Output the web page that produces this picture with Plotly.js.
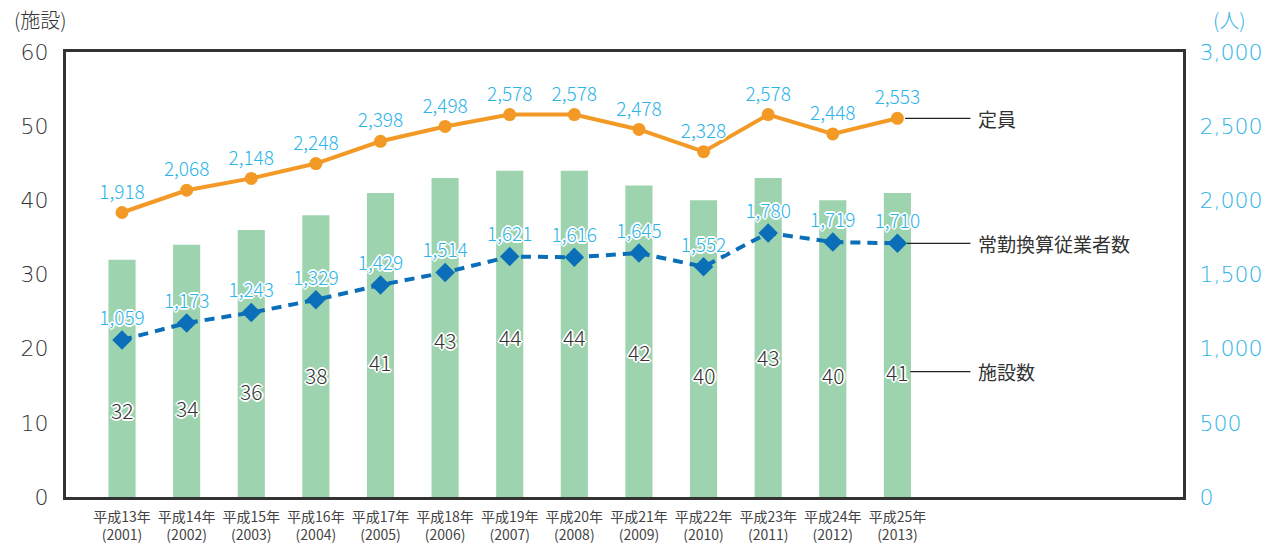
<!DOCTYPE html>
<html>
<head>
<meta charset="utf-8">
<script src="https://cdn.plot.ly/plotly-3.0.1.min.js"></script>
<style>
html,body{margin:0;padding:0;background:#fff;}
#chart{width:1278px;height:554px;}
</style>
</head>
<body>
<div id="chart"></div>
<script>
// ---- data ----
const categories = ["平成13年<br>(2001)","平成14年<br>(2002)","平成15年<br>(2003)","平成16年<br>(2004)","平成17年<br>(2005)","平成18年<br>(2006)","平成19年<br>(2007)","平成20年<br>(2008)","平成21年<br>(2009)","平成22年<br>(2010)","平成23年<br>(2011)","平成24年<br>(2012)","平成25年<br>(2013)"];
const facilities = [32, 34, 36, 38, 41, 43, 44, 44, 42, 40, 43, 40, 41];
const capacity = [1918, 2068, 2148, 2248, 2398, 2498, 2578, 2578, 2478, 2328, 2578, 2448, 2553];
const staff = [1059, 1173, 1243, 1329, 1429, 1514, 1621, 1616, 1645, 1552, 1780, 1719, 1710];
const seriesNames = ["施設数", "定員", "常勤換算従業者数"];
const leftUnit = "(施設)";
const rightUnit = "(人)";
// label placement for bar values (left-axis units), as in the original
const barLabelY = [11.7, 12.0, 14.3, 16.5, 18.2, 21.2, 21.6, 21.6, 19.5, 16.5, 18.9, 16.5, 16.9];

// ---- style ----
const GREEN = "#9dd3ae", ORANGE = "#f39a26", BLUE = "#0a6fb8", LBLUE = "#2db4ea", DARK = "#333333";
const NUMFONT = "Noto Sans CJK JP, Noto Sans, sans-serif";
const TICKFONT = "DejaVu Sans, sans-serif";
const outline = "-1px -1px 0 #fff, 1px -1px 0 #fff, -1px 1px 0 #fff, 1px 1px 0 #fff, 0 2px 0 #fff, 0 -2px 0 #fff, 2px 0 0 #fff, -2px 0 0 #fff";
const fmt = v => v.toLocaleString("en-US");

const traces = [
  {type: "bar", x: categories, y: facilities, name: seriesNames[0], marker: {color: GREEN}, width: 0.42, yaxis: "y", hoverinfo: "y"},
  {type: "scatter", mode: "lines+markers+text", x: categories, y: capacity, name: seriesNames[1], yaxis: "y2",
   line: {color: ORANGE, width: 4}, marker: {color: ORANGE, size: 13, symbol: "circle"},
   text: capacity.map(fmt), textposition: "top center",
   textfont: {family: NUMFONT, size: 19, weight: 300, color: LBLUE, shadow: outline}, cliponaxis: false},
  {type: "scatter", mode: "lines+markers+text", x: categories, y: staff, name: seriesNames[2], yaxis: "y2",
   line: {color: BLUE, width: 4, dash: "10px,7px"}, marker: {color: BLUE, size: 15, symbol: "diamond"},
   text: staff.map(fmt), textposition: "top center",
   textfont: {family: NUMFONT, size: 19, weight: 300, color: LBLUE, shadow: outline}, cliponaxis: false}
];

const annotations = [];
facilities.forEach((v, i) => {
  annotations.push({x: categories[i], y: barLabelY[i], xref: "x", yref: "y", text: String(v), showarrow: false,
    font: {family: NUMFONT, size: 21, weight: 300, color: DARK, shadow: outline}});
});
// unit titles
annotations.push({x: 0, y: 1, xref: "paper", yref: "paper", xanchor: "right", yanchor: "bottom", xshift: 3, yshift: 16,
  text: leftUnit, showarrow: false, font: {family: NUMFONT, size: 20, weight: 300, color: DARK}});
annotations.push({x: 1, y: 1, xref: "paper", yref: "paper", xanchor: "left", yanchor: "bottom", xshift: 28, yshift: 16,
  text: rightUnit, showarrow: false, font: {family: NUMFONT, size: 20, weight: 300, color: LBLUE}});
// series labels at the right
const lblX = 13.22;
annotations.push({x: lblX, y: capacity[12], xref: "x", yref: "y2", xanchor: "left", text: seriesNames[1], showarrow: false,
  font: {family: NUMFONT, size: 19, color: DARK}});
annotations.push({x: lblX, y: staff[12], xref: "x", yref: "y2", xanchor: "left", text: seriesNames[2], showarrow: false,
  font: {family: NUMFONT, size: 19, color: DARK}});
annotations.push({x: lblX, y: barLabelY[12], xref: "x", yref: "y", xanchor: "left", text: seriesNames[0], showarrow: false,
  font: {family: NUMFONT, size: 19, color: DARK}});

const shapes = [
  {type: "line", xref: "x", yref: "y2", x0: 12.12, x1: 13.13, y0: capacity[12], y1: capacity[12], line: {color: "#222", width: 1.2}},
  {type: "line", xref: "x", yref: "y2", x0: 12.15, x1: 13.13, y0: staff[12], y1: staff[12], line: {color: "#222", width: 1.2}},
  {type: "line", xref: "x", yref: "y", x0: 12.2, x1: 13.13, y0: barLabelY[12], y1: barLabelY[12], line: {color: "#222", width: 1.2}}
];

const layout = {
  width: 1278, height: 554,
  margin: {l: 66, r: 95, t: 52, b: 57},
  paper_bgcolor: "#fff", plot_bgcolor: "#fff",
  showlegend: false,
  font: {family: NUMFONT, color: DARK},
  xaxis: {type: "category", range: [-0.867, 16.42], showgrid: false, zeroline: false,
    showline: true, mirror: true, linecolor: DARK, linewidth: 3, ticks: "", ticklabelstandoff: 5,
    tickfont: {family: "Noto Sans CJK JP", size: 14, color: "#444"}},
  yaxis: {range: [0, 60], dtick: 10, showgrid: false, zeroline: false, showline: true, linecolor: DARK, linewidth: 3,
    ticks: "", ticklabelstandoff: 10, tickfont: {family: TICKFONT, size: 22, weight: 300, color: DARK}},
  yaxis2: {range: [0, 3000], dtick: 500, overlaying: "y", side: "right", showgrid: false, zeroline: false,
    showline: true, linecolor: DARK, linewidth: 3, ticks: "", tickformat: ",d", ticklabelstandoff: 9,
    tickfont: {family: TICKFONT, size: 22, weight: 300, color: LBLUE}},
  annotations: annotations,
  shapes: shapes
};

Plotly.newPlot("chart", traces, layout, {displayModeBar: false, staticPlot: true});
</script>
</body>
</html>
